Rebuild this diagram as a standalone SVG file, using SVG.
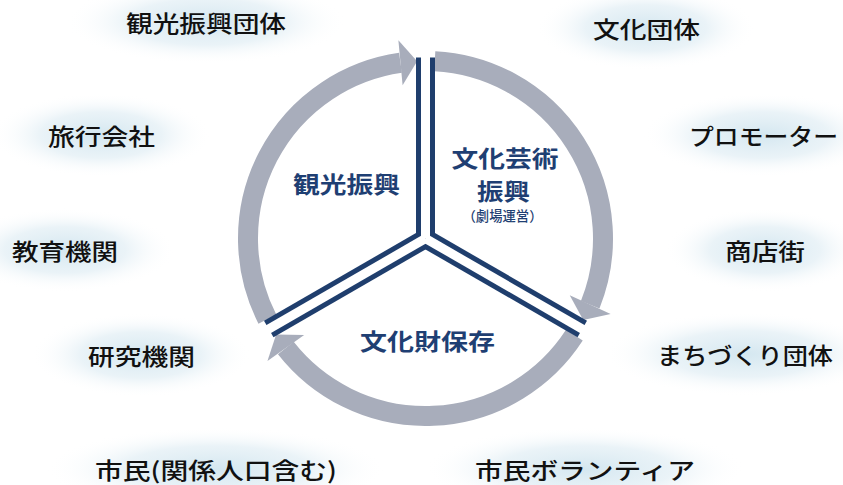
<svg xmlns="http://www.w3.org/2000/svg" width="843" height="485" viewBox="0 0 843 485">
<defs>
<radialGradient id="glow" cx="0.5" cy="0.5" r="0.5">
<stop offset="0" stop-color="#d4e7f0" stop-opacity="1"/>
<stop offset="0.55" stop-color="#e3eff5" stop-opacity="0.75"/>
<stop offset="1" stop-color="#ffffff" stop-opacity="0"/>
</radialGradient>
<style>
.lbl{font-family:"Noto Sans CJK JP","Noto Sans CJK SC",sans-serif;font-size:23px;font-weight:500;fill:#111111;text-anchor:middle;dominant-baseline:central}
.in{font-family:"Noto Sans CJK JP","Noto Sans CJK SC",sans-serif;font-size:23px;font-weight:700;fill:#1f3f73;text-anchor:middle;dominant-baseline:central}
.sm{font-size:13.5px;font-weight:500}
.ring{fill:none;stroke:#a8adbb;stroke-width:20}
.head{fill:#a8adbb}
.sp{stroke:#1f3e6d;stroke-width:19;fill:none}
.spw{stroke:#ffffff;stroke-width:9;fill:none}
.g{fill:url(#glow)}
</style>
</defs>
<rect width="843" height="485" fill="#ffffff"/>

<g id="n-kankoudantai"><ellipse class="g" cx="206" cy="22" rx="140" ry="42"/><text class="lbl" x="206" y="22" textLength="160" lengthAdjust="spacingAndGlyphs">観光振興団体</text></g>
<g id="n-bunkadantai"><ellipse class="g" cx="646" cy="28" rx="110" ry="42"/><text class="lbl" x="646.5" y="28" textLength="107" lengthAdjust="spacingAndGlyphs">文化団体</text></g>
<g id="n-ryokou"><ellipse class="g" cx="101" cy="135" rx="110" ry="42"/><text class="lbl" x="101.5" y="135" textLength="107" lengthAdjust="spacingAndGlyphs">旅行会社</text></g>
<g id="n-promoter"><ellipse class="g" cx="763" cy="135" rx="120" ry="42"/><text class="lbl" x="763.5" y="135" textLength="149" lengthAdjust="spacingAndGlyphs">プロモーター</text></g>
<g id="n-kyouiku"><ellipse class="g" cx="65" cy="250" rx="110" ry="42"/><text class="lbl" x="65" y="250" textLength="106" lengthAdjust="spacingAndGlyphs">教育機関</text></g>
<g id="n-shoutengai"><ellipse class="g" cx="765" cy="250" rx="100" ry="42"/><text class="lbl" x="765" y="250" textLength="80" lengthAdjust="spacingAndGlyphs">商店街</text></g>
<g id="n-kenkyuu"><ellipse class="g" cx="141" cy="355" rx="110" ry="42"/><text class="lbl" x="141.5" y="355" textLength="107" lengthAdjust="spacingAndGlyphs">研究機関</text></g>
<g id="n-machizukuri"><ellipse class="g" cx="745" cy="354" rx="140" ry="42"/><text class="lbl" x="745" y="354" textLength="176" lengthAdjust="spacingAndGlyphs">まちづくり団体</text></g>
<g id="n-shimin"><ellipse class="g" cx="216" cy="469" rx="170" ry="42"/><text class="lbl" x="216" y="469" textLength="242" lengthAdjust="spacingAndGlyphs">市民(関係人口含む)</text></g>
<g id="n-volunteer"><ellipse class="g" cx="585" cy="469" rx="160" ry="42"/><text class="lbl" x="585" y="469" textLength="220" lengthAdjust="spacingAndGlyphs">市民ボランティア</text></g>

<g id="connectors">
<g id="arc-kankou">
<path class="ring" d="M267.35,319.09 A177.5,177.5 0 0 1 400.49,62.77"/>
<polygon class="head" points="417.14,61.2 402.6,85.17 398.38,40.37"/>
</g>
<g id="arc-geijutsu" transform="rotate(120 425.5 238.5)">
<path class="ring" d="M267.35,319.09 A177.5,177.5 0 0 1 400.49,62.77"/>
<polygon class="head" points="417.14,61.2 402.6,85.17 398.38,40.37"/>
</g>
<g id="arc-bunkazai" transform="rotate(240 425.5 238.5)">
<path class="ring" d="M267.35,319.09 A177.5,177.5 0 0 1 400.49,62.77"/>
<polygon class="head" points="417.14,61.2 402.6,85.17 398.38,40.37"/>
</g>
</g>

<g id="dividers">
<path class="sp" d="M425.5,238.5 V57.5"/>
<path class="sp" d="M425.5,238.5 V57.5" transform="rotate(120 425.5 238.5)"/>
<path class="sp" d="M425.5,238.5 V57.5" transform="rotate(240 425.5 238.5)"/>
<path class="spw" d="M425.5,238.5 V56"/>
<path class="spw" d="M425.5,238.5 V56" transform="rotate(120 425.5 238.5)"/>
<path class="spw" d="M425.5,238.5 V56" transform="rotate(240 425.5 238.5)"/>
</g>

<g id="n-kankoushinkou"><text class="in" x="346.5" y="183" textLength="107" lengthAdjust="spacingAndGlyphs">観光振興</text></g>
<g id="n-geijutsu">
<text class="in" x="505" y="156.5" textLength="107" lengthAdjust="spacingAndGlyphs">文化芸術</text>
<text class="in" x="503.5" y="190" textLength="53" lengthAdjust="spacingAndGlyphs">振興</text>
<text class="in sm" x="502.5" y="214.5" textLength="80" lengthAdjust="spacingAndGlyphs">（劇場運営）</text>
</g>
<g id="n-bunkazai"><text class="in" x="427.5" y="340" textLength="135" lengthAdjust="spacingAndGlyphs">文化財保存</text></g>
</svg>
